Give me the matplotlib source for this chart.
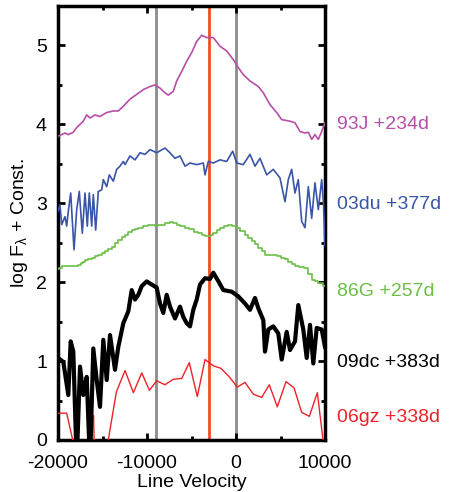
import matplotlib
matplotlib.use("Agg")
import matplotlib.pyplot as plt
import matplotlib.transforms as mtransforms

plt.rcParams['font.family'] = ['Liberation Sans', 'DejaVu Sans']
plt.rcParams['mathtext.fontset'] = 'custom'
plt.rcParams['mathtext.rm'] = 'Liberation Sans'
plt.rcParams['mathtext.it'] = 'Liberation Sans'
plt.rcParams['axes.unicode_minus'] = False

# ---- data ----
v_93J = [-20000, -19213, -18843, -18281, -17899, -17157, -16775, -16404, -15843, -15281,
         -14528, -13787, -13225, -12663, -11910, -11157, -10416, -9663, -9101, -8539,
         -7977, -7606, -7045, -6663, -6101, -5539, -4977, -4416, -3854, -3292,
         -2551, -1798, -1045, -303, 259, 820, 1573, 2506, 3068, 3820,
         4573, 5135, 6067, 6629, 7191, 7753, 8124, 8506, 8876, 9247, 9629, 10000]
f_93J = [3.85, 3.89, 3.87, 3.90, 3.96, 4.04, 4.12, 4.08, 4.12, 4.10,
         4.15, 4.17, 4.17, 4.23, 4.32, 4.38, 4.44, 4.48, 4.50, 4.46,
         4.40, 4.37, 4.42, 4.55, 4.67, 4.80, 4.91, 5.05, 5.13, 5.10,
         5.10, 4.99, 4.93, 4.82, 4.72, 4.63, 4.55, 4.48, 4.40, 4.25,
         4.15, 4.06, 4.04, 4.02, 3.91, 3.89, 3.90, 3.81, 3.87, 3.81, 3.91, 4.02]

v_03du = [-20000, -19775, -19584, -19213, -19022, -18843, -18573, -18202, -17899, -17607,
          -17270, -16966, -16708, -16483, -16213, -16034, -15764, -15472, -15090, -14910,
          -14528, -14236, -13787, -13404, -13034, -12663, -12472, -11910, -11348, -10787,
          -10225, -9663, -8910, -7977, -7416, -6854, -6292, -5730, -5169, -4416,
          -3674, -3483, -3112, -2551, -1798, -1045, -371, 79, 820, 1573,
          2135, 2697, 3449, 4191, 4944, 5506, 5876, 6258, 6629, 7000,
          7382, 7753, 8124, 8506, 8876, 9247, 9629, 9831, 10000]
f_03du = [2.90, 2.98, 2.73, 2.83, 2.71, 2.90, 3.13, 2.41, 2.92, 3.15,
          2.62, 3.13, 2.71, 3.13, 2.71, 3.11, 2.66, 3.15, 3.17, 3.30,
          3.21, 3.36, 3.28, 3.43, 3.47, 3.53, 3.49, 3.60, 3.55, 3.64,
          3.62, 3.68, 3.64, 3.70, 3.64, 3.57, 3.60, 3.47, 3.51, 3.49,
          3.51, 3.36, 3.53, 3.51, 3.55, 3.53, 3.66, 3.51, 3.49, 3.62,
          3.47, 3.57, 3.36, 3.43, 3.32, 3.02, 3.30, 3.43, 3.13, 3.30,
          2.77, 2.69, 3.21, 2.81, 3.26, 2.92, 3.30, 3.00, 2.47]

v_86G = [-20000, -19775, -19400, -19000, -18650, -18250, -17900, -17600, -17340, -17050,
         -16775, -16400, -16030, -15650, -15280, -14900, -14530, -14150, -13790, -13400,
         -13030, -12650, -12290, -11900, -11530, -11150, -10790, -10200, -9660, -9300,
         -8910, -8550, -8170, -7700, -7230, -6850, -6480, -6000, -5540, -5000,
         -4420, -4050, -3670, -3350, -3030, -2700, -2360, -2000, -1610, -1150,
         -680, -200, 260, 730, 1200, 1580, 1950, 2320, 2700, 3080,
         3450, 3900, 4380, 4850, 5320, 5700, 6070, 6450, 6820, 7400,
         7940, 8300, 8690, 9050, 9440, 10000]
f_86G = [2.17, 2.18, 2.20, 2.20, 2.20, 2.20, 2.21, 2.22, 2.24, 2.26,
         2.28, 2.30, 2.31, 2.33, 2.35, 2.37, 2.39, 2.42, 2.45, 2.50,
         2.54, 2.57, 2.60, 2.63, 2.66, 2.68, 2.69, 2.71, 2.73, 2.72,
         2.71, 2.72, 2.73, 2.75, 2.76, 2.75, 2.73, 2.71, 2.69, 2.67,
         2.64, 2.62, 2.60, 2.59, 2.58, 2.60, 2.62, 2.66, 2.69, 2.71,
         2.73, 2.71, 2.69, 2.65, 2.60, 2.56, 2.52, 2.48, 2.43, 2.39,
         2.35, 2.35, 2.35, 2.33, 2.31, 2.29, 2.26, 2.23, 2.20, 2.19,
         2.18, 2.10, 2.03, 2.01, 1.99, 1.95]

v_09dc = [-20000, -19404, -18843, -18573, -18281, -17899, -17528, -17157, -16775, -16404,
          -16034, -15652, -15281, -14910, -14528, -14157, -13596, -13225, -12663, -12101,
          -11719, -11348, -10978, -10596, -10034, -9472, -8910, -8539, -8169, -7787,
          -7416, -6854, -6292, -5921, -5539, -5169, -4798, -4416, -4045, -3483,
          -2921, -2551, -2022, -1427, -483, 259, 1011, 1573, 2135, 2506,
          3068, 3258, 3629, 4191, 4753, 5135, 5697, 6067, 6629, 7000,
          7562, 7944, 8315, 8685, 9067, 9629, 10000]
f_09dc = [1.04, 0.99, 0.57, 1.25, 1.12, -0.30, 0.93, 0.57, 0.80, -0.30,
          1.16, 0.76, 0.42, 1.27, 0.76, 1.33, 0.89, 1.18, 1.48, 1.63,
          1.90, 1.78, 1.84, 1.95, 2.01, 1.97, 1.93, 1.73, 1.61, 1.84,
          1.69, 1.54, 1.69, 1.56, 1.48, 1.44, 1.65, 1.78, 1.97, 2.05,
          2.04, 2.12, 2.02, 1.90, 1.88, 1.82, 1.73, 1.65, 1.80, 1.67,
          1.52, 1.12, 1.40, 1.44, 1.35, 1.02, 1.37, 1.14, 1.25, 1.71,
          1.40, 1.04, 1.46, 0.97, 1.42, 1.40, 1.18]

v_06gz = [-20000, -19022, -17750, -16300, -16200, -16000, -15900, -14800, -13440, -12470,
          -11530, -10590, -9730, -8910, -7980, -7040, -6100, -5250, -4350, -3480,
          -2550, -1720, -750, 150, 1010, 1950, 2890, 3740, 4640, 5620,
          6520, 7380, 8240, 9140, 9780]
f_06gz = [0.34, 0.34, -0.30, -0.30, 0.31, 0.31, -0.30, -0.30, 0.61, 0.88,
          0.60, 0.85, 0.63, 0.75, 0.70, 0.77, 0.78, 0.98, 0.55, 1.02,
          0.94, 0.91, 0.80, 0.67, 0.73, 0.58, 0.54, 0.70, 0.42, 0.74,
          0.66, 0.35, 0.30, 0.60, 0.00]

gray_lines = [-9000, 0]
red_line = -3000

labels = ["93J +234d", "03du +377d", "86G +257d", "09dc +383d", "06gz +338d"]
label_y = [4.0, 2.98, 1.88, 0.98, 0.29]

c_93J = '#B64FA8'
c_03du = '#3A55AA'
c_86G = '#6BBF47'
c_09dc = '#000000'
c_06gz = '#EC2229'

# ---- figure ----
fig = plt.figure(figsize=(4.5, 4.92), dpi=100)
ax = fig.add_axes([58/450, 52/492, 267/450, 434/492])

for xv in gray_lines:
    ax.axvline(xv, color='#8c8c8c', lw=2.0, zorder=1)
ax.axvline(red_line, color='#F04E23', lw=2.0, zorder=1)

ax.plot(v_93J, f_93J, color=c_93J, lw=1.2, zorder=3)
ax.plot(v_03du, f_03du, color=c_03du, lw=1.2, zorder=3)
ax.plot(v_86G, f_86G, color=c_86G, lw=1.2, drawstyle='steps-mid', zorder=3)
ax.plot(v_09dc, f_09dc, color=c_09dc, lw=3.0, zorder=4)
ax.plot(v_06gz, f_06gz, color=c_06gz, lw=1.0, zorder=3)

ax.set_xlim(-20000, 10000)
ax.set_ylim(0, 5.5)
ax.set_xticks([-20000, -10000, 0, 10000])
ax.set_xticks([-15000, -5000, 5000], minor=True)
ax.set_yticks([0, 1, 2, 3, 4, 5])
ax.set_yticks([0.5, 1.5, 2.5, 3.5, 4.5], minor=True)
ax.tick_params(which='both', direction='in', top=True, right=True, width=2,
               labelsize=14)
ax.tick_params(axis='y', which='both', pad=8)
ax.tick_params(axis='x', which='both', pad=11)
ax.tick_params(which='major', length=5)
ax.tick_params(which='minor', length=3)
for s in ax.spines.values():
    s.set_linewidth(2.5)

ax.set_xlabel('Line Velocity', fontsize=14, labelpad=1)
ax.set_ylabel(r'log F$_\lambda$ + Const.', fontsize=14, labelpad=4)

trans = mtransforms.blended_transform_factory(ax.transAxes, ax.transData)
for lab, yv, c in zip(labels, label_y, [c_93J, c_03du, c_86G, c_09dc, c_06gz]):
    ax.text(1.045, yv, lab, color=c, fontsize=14, va='center', ha='left',
            transform=trans, clip_on=False)

fig.savefig('out.png', dpi=100)
